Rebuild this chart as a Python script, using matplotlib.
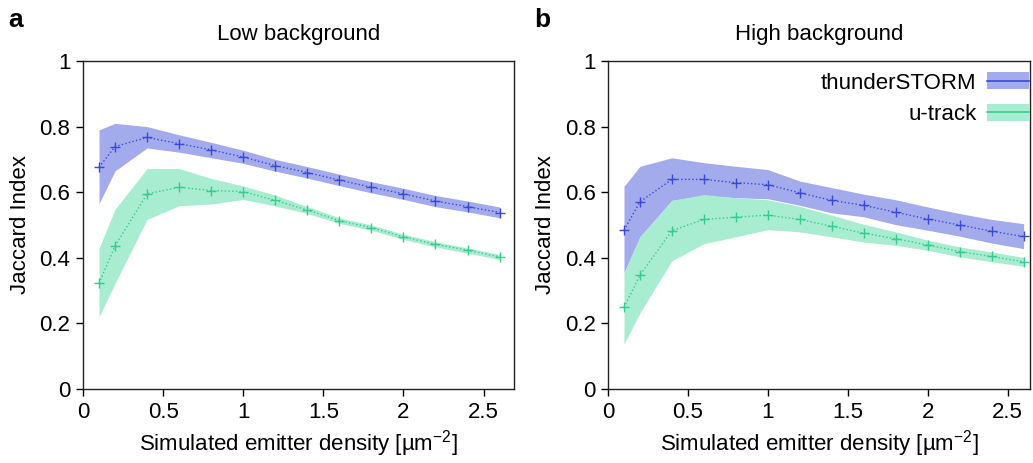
import matplotlib.pyplot as plt
from matplotlib.patches import Rectangle
from matplotlib.lines import Line2D
from matplotlib.legend_handler import HandlerBase

plt.rcParams['font.family'] = ['Liberation Sans', 'DejaVu Sans']
plt.rcParams['mathtext.fontset'] = 'custom'
plt.rcParams['mathtext.rm'] = 'Liberation Sans'

# emitter densities [um^-2]
density = [0.1, 0.2, 0.4, 0.6, 0.8, 1.0, 1.2, 1.4, 1.6, 1.8, 2.0, 2.2, 2.4, 2.6]

# Low background
low_ts_mean = [0.676, 0.739, 0.767, 0.748, 0.729, 0.707, 0.681, 0.660, 0.637, 0.615, 0.595, 0.573, 0.556, 0.538]
low_ts_hi = [0.790, 0.810, 0.800, 0.775, 0.752, 0.728, 0.700, 0.678, 0.655, 0.632, 0.612, 0.590, 0.573, 0.555]
low_ts_lo = [0.565, 0.665, 0.735, 0.722, 0.705, 0.688, 0.664, 0.643, 0.620, 0.598, 0.578, 0.556, 0.540, 0.522]
low_ut_mean = [0.322, 0.436, 0.595, 0.615, 0.605, 0.602, 0.575, 0.546, 0.513, 0.492, 0.464, 0.441, 0.423, 0.403]
low_ut_hi = [0.429, 0.548, 0.672, 0.672, 0.642, 0.619, 0.591, 0.556, 0.522, 0.500, 0.472, 0.449, 0.430, 0.410]
low_ut_lo = [0.220, 0.322, 0.517, 0.559, 0.564, 0.578, 0.558, 0.535, 0.505, 0.484, 0.456, 0.433, 0.414, 0.395]

# High background
high_ts_mean = [0.484, 0.571, 0.639, 0.639, 0.629, 0.623, 0.598, 0.575, 0.560, 0.539, 0.518, 0.500, 0.481, 0.465]
high_ts_hi = [0.618, 0.679, 0.705, 0.690, 0.679, 0.669, 0.634, 0.614, 0.594, 0.577, 0.555, 0.535, 0.517, 0.504]
high_ts_lo = [0.354, 0.464, 0.575, 0.590, 0.583, 0.580, 0.560, 0.537, 0.525, 0.501, 0.484, 0.466, 0.445, 0.428]
high_ut_mean = [0.249, 0.347, 0.483, 0.517, 0.524, 0.530, 0.517, 0.496, 0.475, 0.458, 0.439, 0.419, 0.404, 0.388]
high_ut_hi = [0.354, 0.464, 0.575, 0.593, 0.583, 0.577, 0.557, 0.530, 0.502, 0.479, 0.454, 0.433, 0.418, 0.401]
high_ut_lo = [0.137, 0.232, 0.391, 0.443, 0.464, 0.486, 0.479, 0.464, 0.448, 0.438, 0.423, 0.403, 0.388, 0.374]

ts_line = '#3a48d6'
ts_fill = '#a4abed'
ut_line = '#36cc8b'
ut_fill = '#a8ecd2'


class BandHandler(HandlerBase):
    # filled box with the mean line running through it
    def __init__(self, fill, line):
        super().__init__()
        self.fill = fill
        self.line = line

    def create_artists(self, legend, orig_handle, xdescent, ydescent,
                       width, height, fontsize, trans):
        box = Rectangle((-xdescent, -ydescent), width, height,
                        facecolor=self.fill, edgecolor='none', transform=trans)
        ln = Line2D([-xdescent, -xdescent + width], [height / 2 - ydescent] * 2,
                    color=self.line, linewidth=1.2, transform=trans)
        return [box, ln]


fig = plt.figure(figsize=(10.33, 4.63), dpi=100)
W, H = 1033, 463
ax1 = fig.add_axes([83 / W, 74 / H, 431 / W, 328 / H])
ax2 = fig.add_axes([608 / W, 74 / H, 422 / W, 328 / H])

panels = [
    (ax1, 'Low background', 'a', low_ts_mean, low_ts_lo, low_ts_hi, low_ut_mean, low_ut_lo, low_ut_hi, 2.69),
    (ax2, 'High background', 'b', high_ts_mean, high_ts_lo, high_ts_hi, high_ut_mean, high_ut_lo, high_ut_hi, 2.64),
]

for ax, title, letter, tsm, tsl, tsh, utm, utl, uth, xmax in panels:
    ax.fill_between(density, tsl, tsh, color=ts_fill, linewidth=0)
    ax.fill_between(density, utl, uth, color=ut_fill, linewidth=0)
    ax.plot(density, tsm, linestyle=':', color=ts_line, linewidth=1.0,
            marker='+', markersize=7, markeredgewidth=1.0)
    ax.plot(density, utm, linestyle=':', color=ut_line, linewidth=1.0,
            marker='+', markersize=7, markeredgewidth=1.0)

    ax.set_xlim(0, xmax)
    ax.set_ylim(0, 1)
    ax.set_xticks([0, 0.5, 1, 1.5, 2, 2.5])
    ax.set_xticklabels(['0', '0.5', '1', '1.5', '2', '2.5'])
    ax.set_yticks([0, 0.2, 0.4, 0.6, 0.8, 1])
    ax.set_yticklabels(['0', '0.2', '0.4', '0.6', '0.8', '1'])
    ax.tick_params(direction='out', length=5, width=1, labelsize=16, pad=4,
                   top=False, right=False)
    for s in ax.spines.values():
        s.set_linewidth(1.0)
        s.set_color('#222222')

    ax.set_xlabel(r'Simulated emitter density [µm$^{\mathrm{-2}}$]', fontsize=16, labelpad=4)
    ax.set_ylabel('Jaccard Index', fontsize=16, labelpad=6)
    ax.set_title(title, fontsize=16, pad=15)
    ax.text(-0.174, 1.104, letter, transform=ax.transAxes, fontsize=19,
            fontweight='bold', va='baseline', ha='left')

# legend on right panel: labels left, handles right
h_ts = Rectangle((0, 0), 1, 1)
h_ut = Rectangle((0, 0), 1, 1)
ax2.legend([h_ts, h_ut], ['thunderSTORM', 'u-track'],
           handler_map={h_ts: BandHandler(ts_fill, ts_line),
                        h_ut: BandHandler(ut_fill, ut_line)},
           loc='upper right', bbox_to_anchor=(0.997, 0.965), frameon=False,
           markerfirst=False, fontsize=16, handlelength=1.9, handleheight=0.8,
           handletextpad=0.45, labelspacing=0.45, borderpad=0, borderaxespad=0)

fig.savefig('out.png', dpi=100)
